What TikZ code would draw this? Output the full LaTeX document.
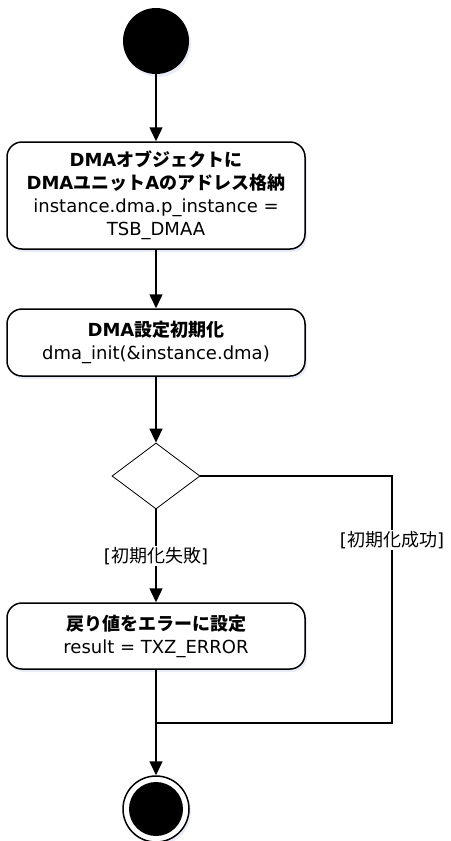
\documentclass[tikz,border=0pt]{standalone}
\usepackage{fontspec}
\setmainfont{DejaVu Sans}
\newfontfamily\jpfont{Noto Sans CJK JP}
\newcommand\ja[1]{{\jpfont #1}}
\usetikzlibrary{arrows.meta,shapes.geometric,shadows}

\tikzset{
  flow/.style={line width=1.5pt,-{Triangle[width=13pt,length=14pt]}},
  glow/.style={drop shadow={shadow xshift=2pt,shadow yshift=-3pt,fill=cyan!40!blue!25,opacity=0.35}},
  action/.style={draw,line width=1.5pt,rounded corners=15pt,fill=white,glow,
    minimum width=298pt,align=center,inner sep=2pt},
  guard/.style={fill=white,inner sep=1pt},
}

\begin{document}
\begin{tikzpicture}[x=1pt,y=-1pt,font=\fontsize{18}{23}\selectfont]
  \useasboundingbox (0,0) rectangle (450,841);
  \node[circle,fill=black,minimum size=66pt,glow] (start) at (156,41) {};
  \node[action,minimum height=107pt] (store) at (156,195.5)
    {{\bfseries DMA\ja{オブジェクトに}}\\
     {\bfseries DMA\ja{ユニット}A\ja{のアドレス格納}}\\
     instance.dma.p\_instance =\\ TSB\_DMAA};
  \node[action,minimum height=67pt] (init) at (156,342.5)
    {{\bfseries DMA\ja{設定初期化}}\\ dma\_init(\&instance.dma)};
  \node[diamond,draw,line width=0.8pt,minimum width=88pt,minimum height=66pt,inner sep=0pt] (check) at (156,476) {};
  \node[action,minimum height=66pt] (seterr) at (156,636)
    {{\bfseries\ja{戻り値をエラーに設定}}\\ result = TXZ\_ERROR};
  \node[circle,draw,line width=1.5pt,fill=white,minimum size=66pt,glow] (final) at (156,809) {};
  \node[circle,fill=black,minimum size=54pt] (finaldot) at (final.center) {};
  \coordinate (merge) at (156,723);
  \coordinate (corner) at (392,723);
  \draw[flow] (start) -- (store);
  \draw[flow] (store) -- (init);
  \draw[flow] (init) -- (check);
  \draw[flow] (check) -- node[guard]{[\ja{初期化失敗}]} (seterr);
  \draw[line width=1.5pt] (check.east) -| node[guard,pos=0.63]{[\ja{初期化成功}]} (corner) -- (merge);
  \draw[flow] (seterr) -- (final);
\end{tikzpicture}
\end{document}
